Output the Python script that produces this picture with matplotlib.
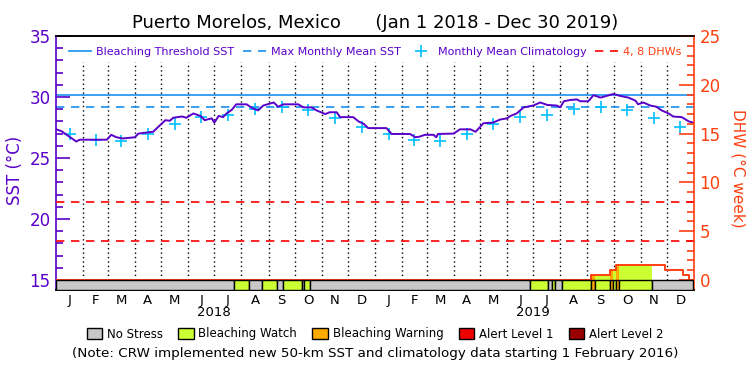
import numpy as np
import matplotlib
matplotlib.use("Agg")
import matplotlib.pyplot as plt
from matplotlib.lines import Line2D
from matplotlib.patches import Patch

# days counted from Jan 1 2018 (730 = Jan 1 2020)
sst_day = [0, 6, 12, 23, 27, 44, 58, 63, 69, 76, 90, 94, 111, 119, 125, 130, 134, 144,
           149, 157, 165, 170, 178, 181, 186, 191, 195, 201, 206, 218, 224, 231, 237,
           249, 254, 260, 277, 283, 292, 298, 308, 313, 321, 325, 340, 346, 352, 357,
           371, 378, 384, 405, 411, 416, 422, 432, 435, 437, 455, 462, 474, 480, 489,
           500, 508, 516, 520, 527, 535, 546, 554, 562, 573, 577, 581, 588, 596, 600,
           609, 615, 623, 628, 638, 645, 655, 663, 666, 672, 680, 687, 693, 701, 706,
           716, 724, 729]
sst_val = [27.35, 27.2, 26.9, 26.35, 26.5, 26.5, 26.5, 26.9, 26.7, 26.6, 26.7, 27.0,
           27.15, 27.7, 28.1, 28.05, 28.3, 28.4, 28.3, 28.65, 28.45, 28.1, 28.25, 27.9,
           28.45, 28.35, 28.65, 28.95, 29.4, 29.4, 29.1, 28.9, 29.3, 29.55, 29.2, 29.4,
           29.4, 29.15, 29.15, 28.9, 28.6, 28.75, 28.75, 28.35, 28.35, 28.0, 27.8, 27.45,
           27.45, 27.45, 26.97, 26.97, 26.7, 26.75, 26.9, 26.9, 26.7, 26.97, 27.0, 27.35,
           27.35, 27.15, 27.85, 27.9, 28.15, 28.25, 28.45, 28.65, 29.15, 29.3, 29.55,
           29.35, 29.3, 29.15, 29.65, 29.75, 29.8, 29.65, 29.65, 30.15, 29.95, 30.05,
           30.25, 30.1, 29.95, 29.7, 29.4, 29.55, 29.3, 29.2, 28.9, 28.65, 28.4, 28.35,
           28.0, 27.9]

# monthly mean climatology (same for both years)
clim_val = [27.0, 26.5, 26.4, 27.0, 27.8, 28.35, 28.55, 29.0, 29.2, 28.9, 28.25, 27.5]
month_letters = ["J", "F", "M", "A", "M", "J", "J", "A", "S", "O", "N", "D"]
years = ["2018", "2019"]

threshold = 30.2
mmm = 29.2
dhw_marks = [4, 8]

dhw_day = [0, 612, 634, 641, 697, 717, 724, 729]
dhw_val = [0, 0.5, 1.0, 1.55, 1.0, 0.5, 0, 0]

# 0 no stress, 1 watch, 2 warning, 3 alert 1, 4 alert 2
status_start = [0, 204, 221, 235, 253, 260, 281, 284, 291, 542, 563, 568, 571, 579,
                612, 617, 634, 637, 641, 644, 682]
status_end = [204, 221, 235, 253, 260, 281, 284, 291, 542, 563, 568, 571, 579, 612,
              617, 634, 637, 641, 644, 682, 729]
status_level = [0, 1, 0, 1, 0, 1, 0, 1, 0, 1, 0, 1, 0, 1, 2, 1, 2, 1, 2, 1, 0]

status_names = ["No Stress", "Bleaching Watch", "Bleaching Warning", "Alert Level 1", "Alert Level 2"]
status_colors = ["#c8c8c8", "#ccff33", "#ffaa00", "#ee0000", "#990000"]

purple = "#5a00c8"
orange = "#ff4010"
blue = "#1890f0"
cyan = "#00c0ff"

plt.rcParams["font.family"] = "DejaVu Sans"

fig = plt.figure(figsize=(7.5, 3.75), dpi=100)
ax = fig.add_axes([56.2 / 750, 1 - 290 / 375, 637.8 / 750, 254 / 375])
ax2 = ax.twinx()

ax.set_xlim(0, 730)
ax.set_ylim(14.18, 35)
ax2.set_ylim(-1.03, 25)

# month boundaries / centres
mstart = np.arange("2018-01", "2020-02", dtype="datetime64[M]")
mstart = (mstart.astype("datetime64[D]") - np.datetime64("2018-01-01")).astype(float)
mmid = (mstart[:-1] + mstart[1:]) / 2

for xb in mstart[1:-1]:
    ax.plot([xb, xb], [15, 32.9], color="black", lw=1, ls=(0, (1, 2.2)), zorder=1)

ax.axhline(threshold, color=blue, lw=1.2, zorder=2)
ax.axhline(mmm, color=blue, lw=1.2, ls=(0, (5, 4)), zorder=2)
for d in dhw_marks:
    ax2.axhline(d, color="red", lw=1.2, ls=(0, (5, 4)), zorder=2)

ax.plot(mmid, clim_val * 2, ls="none", marker="+", ms=8.5, mew=1.2, color=cyan, zorder=4)
ax.plot(sst_day, sst_val, color=purple, lw=1.4, zorder=5)

# DHW fill coloured by status, then DHW line
dhw_day_a = np.array(dhw_day)
dhw_val_a = np.array(dhw_val)
for s, e, lev in zip(status_start, status_end, status_level):
    if lev == 0:
        continue
    d = np.arange(s, e + 1)
    v = dhw_val_a[np.searchsorted(dhw_day_a, d, side="right") - 1]
    ax2.fill_between(d, 0, v, step="post", color=status_colors[lev], lw=0, zorder=3)
ax2.step(dhw_day, dhw_val, where="post", color=orange, lw=1.4, zorder=4)

# status bar
widths = [e - s for s, e in zip(status_start, status_end)]
ax2.bar(status_start, [1.03] * len(widths), width=widths, bottom=-1.03, align="edge",
        color=[status_colors[l] for l in status_level], edgecolor="black", lw=1, zorder=6)

# axes styling
ax.spines["left"].set_color(purple)
ax.spines["left"].set_linewidth(1.2)
ax.spines["right"].set_visible(False)
ax2.spines["left"].set_visible(False)
ax2.spines["right"].set_color(orange)
ax2.spines["right"].set_linewidth(1.2)
for a in (ax, ax2):
    a.spines["top"].set_linewidth(1.2)
    a.spines["bottom"].set_linewidth(1.2)

ax.set_yticks([15, 20, 25, 30, 35])
ax.set_yticks(np.arange(15, 36, 1), minor=True)
ax.tick_params(axis="y", which="major", direction="in", length=10, width=1.2,
               colors=purple, labelsize=12, pad=4)
ax.tick_params(axis="y", which="minor", direction="in", length=5, width=1.2, colors=purple)
ax.set_ylabel("SST (°C)", color=purple, fontsize=12, va="center")
ax.yaxis.set_label_coords(-0.064, 0.47)

ax2.set_yticks([0, 5, 10, 15, 20, 25])
ax2.set_yticks(np.arange(0, 26, 1), minor=True)
ax2.tick_params(axis="y", which="major", direction="in", length=11, width=1.2,
                colors=orange, labelsize=12, pad=4)
ax2.tick_params(axis="y", which="minor", direction="in", length=5, width=1.2, colors=orange)
ax2.set_ylabel("DHW (°C week)", color=orange, fontsize=11, rotation=270, va="center")
ax2.yaxis.set_label_coords(1.069, 0.48)

ax.set_xticks(mmid)
ax.set_xticklabels(month_letters * 2, fontsize=9.5)
ax.tick_params(axis="x", length=0, pad=3)
for i, yr in enumerate(years):
    ax.text(mstart[6 + 12 * i], -0.09, yr, transform=ax.get_xaxis_transform(),
            ha="center", va="center", fontsize=9.5)

ax.set_title("Puerto Morelos, Mexico      (Jan 1 2018 - Dec 30 2019)", fontsize=13, pad=6)

handles = [Line2D([], [], color=blue, lw=1.2),
           Line2D([], [], color=blue, lw=1.2, ls=(0, (5, 4))),
           Line2D([], [], color=cyan, ls="none", marker="+", ms=8.5, mew=1.2),
           Line2D([], [], color="red", lw=1.2, ls=(0, (5, 4)))]
labels = ["Bleaching Threshold SST", "Max Monthly Mean SST", "Monthly Mean Climatology", "4, 8 DHWs"]
leg = ax.legend(handles, labels, loc="upper center", bbox_to_anchor=(0.5, 0.995), ncol=4,
                frameon=False, fontsize=8, handlelength=2.0, handletextpad=0.5,
                columnspacing=0.8, labelcolor=[purple, purple, purple, orange])
leg.set_zorder(10)

patches = [Patch(facecolor=c, edgecolor="black", lw=1) for c in status_colors]
fig.legend(patches, status_names, loc="center", bbox_to_anchor=(0.5, 1 - 334 / 375), ncol=5,
           frameon=False, fontsize=8.5, handlelength=1.3, handleheight=1.0,
           handletextpad=0.4, columnspacing=1.3)
fig.text(0.5, 1 - 354 / 375,
         "(Note: CRW implemented new 50-km SST and climatology data starting 1 February 2016)",
         ha="center", va="center", fontsize=9.7)

fig.savefig("out.png", dpi=100)
